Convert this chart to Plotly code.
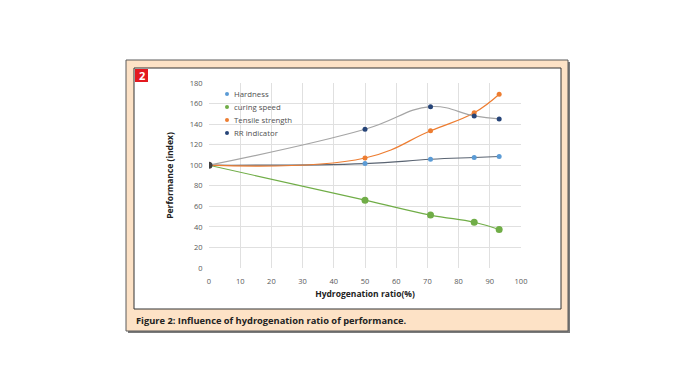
import plotly.graph_objects as go

# ---- data ----
ratio = [0, 50, 71, 85, 93]
hardness = [100, 101.6, 105.8, 107.5, 108.5]
curing_speed = [100, 66, 51.5, 44.5, 37.5]
tensile_strength = [100, 107, 133.5, 151, 169]
rr_indicator = [100, 135, 157, 148, 145]
series_names = ["Hardness", "curing speed", "Tensile strength", "RR indicator"]
x_ticks = [0, 10, 20, 30, 40, 50, 60, 70, 80, 90, 100]
y_ticks = [0, 20, 40, 60, 80, 100, 120, 140, 160, 180]

OFF = 8  # default page body margin
W, H = 696 - 2 * OFF, 392 - 2 * OFF
PX0, PX1 = 209 - OFF, 521 - OFF   # plot area in figure pixels
PY0, PY1 = 83 - OFF, 268 - OFF

def px(x):
    return (x - OFF - PX0) / (PX1 - PX0)

def py(y):
    return (PY1 - (y - OFF)) / (PY1 - PY0)

FONT = "Open Sans"
TICK = "#595959"

marker_colors = ["#5B9BD5", "#70AD47", "#ED7D31", "#264478"]
line_colors = ["#5a6472", "#70AD47", "#ED7D31", "#A5A5A5"]
marker_sizes = [5, 7, 5, 5]
values = [hardness, curing_speed, tensile_strength, rr_indicator]

fig = go.Figure()
for vals, lc in zip(values, line_colors):
    fig.add_trace(go.Scatter(x=ratio, y=vals, mode="lines",
                             line=dict(color=lc, width=1.2, shape="spline", smoothing=1.2),
                             showlegend=False, hoverinfo="skip"))
for name, vals, mc, ms in zip(series_names, values, marker_colors, marker_sizes):
    fig.add_trace(go.Scatter(x=ratio[1:], y=vals[1:], mode="markers", name=name, showlegend=False,
                             marker=dict(color=mc, size=ms)))
fig.add_trace(go.Scatter(x=[ratio[0]], y=[rr_indicator[0]], mode="markers", showlegend=False,
                         marker=dict(color="#404040", size=7)))

shapes = [
    dict(type="rect", xref="paper", yref="paper", x0=px(128), x1=px(570), y0=py(62), y1=py(333),
         fillcolor="#7a7a7a", line=dict(width=0), layer="below"),
    dict(type="rect", xref="paper", yref="paper", x0=px(126), x1=px(568), y0=py(60), y1=py(331),
         fillcolor="#fde2c6", line=dict(color="#5a5a5a", width=1), layer="below"),
    dict(type="rect", xref="paper", yref="paper", x0=px(134), x1=px(561), y0=py(68), y1=py(309),
         fillcolor="white", line=dict(color="#333333", width=1), layer="below"),
    dict(type="rect", xref="paper", yref="paper", x0=px(135), x1=px(148), y0=py(69), y1=py(82),
         fillcolor="#e3191f", line=dict(width=0), layer="above"),
]

annotations = [
    dict(text="<b>2</b>", xref="paper", yref="paper", x=px(141.5), y=py(75.5), showarrow=False,
         font=dict(family=FONT, size=11, color="white"), xanchor="center", yanchor="middle"),
    dict(text="<b>Figure 2: Influence of hydrogenation ratio of performance.</b>", xref="paper", yref="paper",
         x=px(134), y=py(320), showarrow=False, xanchor="left", yanchor="middle",
         font=dict(family=FONT, size=9.3, color="#222222")),
]

# manual legend
legend_y = [94, 107, 120, 133]
for name, mc, ly in zip(series_names, marker_colors, legend_y):
    r = 2
    shapes.append(dict(type="circle", xref="paper", yref="paper",
                       x0=px(227 - r), x1=px(227 + r), y0=py(ly - r), y1=py(ly + r),
                       fillcolor=mc, line=dict(width=0), layer="above"))
    annotations.append(dict(text=name, xref="paper", yref="paper", x=px(232), y=py(ly),
                            showarrow=False, xanchor="left", yanchor="middle",
                            font=dict(family=FONT, size=7.8, color="#505050")))

fig.update_layout(
    width=W, height=H,
    margin=dict(l=PX0, r=W - PX1, t=PY0, b=H - PY1, pad=0),
    paper_bgcolor="white", plot_bgcolor="rgba(0,0,0,0)",
    font=dict(family=FONT, size=8, color=TICK),
    shapes=shapes, annotations=annotations, showlegend=False,
    xaxis=dict(range=[0, 100], tickvals=x_ticks, showgrid=True, gridcolor="#e0e0e0", gridwidth=1,
               zeroline=False, showline=False, ticks="outside", ticklen=6, tickcolor="rgba(0,0,0,0)",
               tickfont=dict(size=7.5, color=TICK),
               title=dict(text="<b>Hydrogenation ratio(%)</b>", font=dict(size=8.5, color="#222222"), standoff=6)),
    yaxis=dict(range=[0, 180], tickvals=y_ticks, showgrid=True, gridcolor="#e0e0e0", gridwidth=1,
               zeroline=False, showline=False, ticks="outside", ticklen=4, tickcolor="rgba(0,0,0,0)",
               tickfont=dict(size=7.5, color=TICK),
               title=dict(text="<b>Performance (index)</b>", font=dict(size=8.5, color="#222222"), standoff=14)),
)

fig.write_html("out.html")
